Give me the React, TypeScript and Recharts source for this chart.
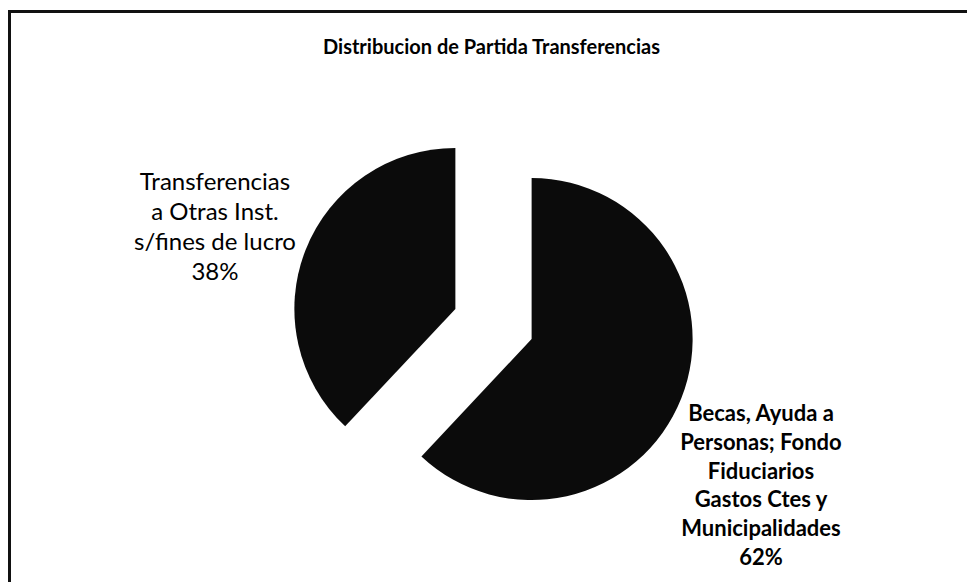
import React from "react";
import { PieChart, Pie, Cell } from "recharts";

// ---- data ----
const categories = [
  "Becas, Ayuda a Personas; Fondo Fiduciarios Gastos Ctes y Municipalidades",
  "Transferencias a Otras Inst. s/fines de lucro",
];
const values = [62, 38];
const labelLines = [
  ["Becas, Ayuda a", "Personas; Fondo", "Fiduciarios", "Gastos Ctes y", "Municipalidades"],
  ["Transferencias", "a Otras Inst.", "s/fines de lucro"],
];
const title = "Distribucion de Partida Transferencias";

// ---- layout / style ----
const W = 967;
const H = 582;
const CENTER = { x: 493.5, y: 324 };
const RADIUS = 161;
const EXPLODE = 41;
const START = 90;
const END = -270;
const FILL = "#0b0b0b";
const FONT = "Lato, 'Open Sans', sans-serif";
const LABEL_STYLE = [
  { x: 761, y: 421, lh: 28.8, size: 22, weight: 700 },
  { x: 215, y: 190, lh: 30, size: 24, weight: 400 },
];

const data = categories.map((name, i) => ({ name, value: values[i] }));
const total = values.reduce((a, b) => a + b, 0);

// mid angle of each slice (degrees, recharts convention) derived from the data
const midAngles: number[] = [];
{
  let acc = START;
  values.forEach((v) => {
    const span = ((END - START) * v) / total;
    midAngles.push(acc + span / 2);
    acc += span;
  });
}

const RAD = Math.PI / 180;

export default function App() {
  return (
    <div style={{ position: "absolute", left: 0, top: 0, width: W, height: H, background: "#fff", overflow: "hidden" }}>
      <div
        style={{
          position: "absolute",
          left: 8,
          top: 10,
          width: 2000,
          height: 2000,
          borderTop: "3px solid #111",
          borderLeft: "3px solid #111",
        }}
      />
      <div
        style={{
          position: "absolute",
          left: 0,
          width: W,
          top: 34,
          textAlign: "center",
          fontFamily: FONT,
          fontWeight: 700,
          fontSize: 20,
          color: "#000",
          paddingLeft: 16,
          boxSizing: "border-box",
          lineHeight: "24px",
        }}
      >
        {title}
      </div>
      <div style={{ position: "absolute", left: 0, top: 0 }}>
        <PieChart width={W} height={H} margin={{ top: 0, right: 0, bottom: 0, left: 0 }}>
          {data.map((_, si) => {
            const cx = CENTER.x + EXPLODE * Math.cos(midAngles[si] * RAD);
            const cy = CENTER.y - EXPLODE * Math.sin(midAngles[si] * RAD);
            const ls = LABEL_STYLE[si];
            return (
              <Pie
                key={si}
                data={data}
                dataKey="value"
                nameKey="name"
                cx={cx}
                cy={cy}
                outerRadius={RADIUS}
                startAngle={START}
                endAngle={END}
                stroke="none"
                isAnimationActive={false}
                labelLine={false}
                label={(p: any) => {
                  if (p.index !== si) return null;
                  const lines = [...labelLines[si], `${Math.round((p.percent ?? values[si] / total) * 100)}%`];
                  return (
                    <text
                      key={`lbl-${si}`}
                      textAnchor="middle"
                      fontFamily={FONT}
                      fontSize={ls.size}
                      fontWeight={ls.weight}
                      fill="#000"
                    >
                      {lines.map((t, li) => (
                        <tspan key={li} x={ls.x} y={ls.y + li * ls.lh}>
                          {t}
                        </tspan>
                      ))}
                    </text>
                  );
                }}
              >
                {data.map((_, ci) => (
                  <Cell key={ci} fill={ci === si ? FILL : "none"} stroke="none" />
                ))}
              </Pie>
            );
          })}
        </PieChart>
      </div>
    </div>
  );
}
